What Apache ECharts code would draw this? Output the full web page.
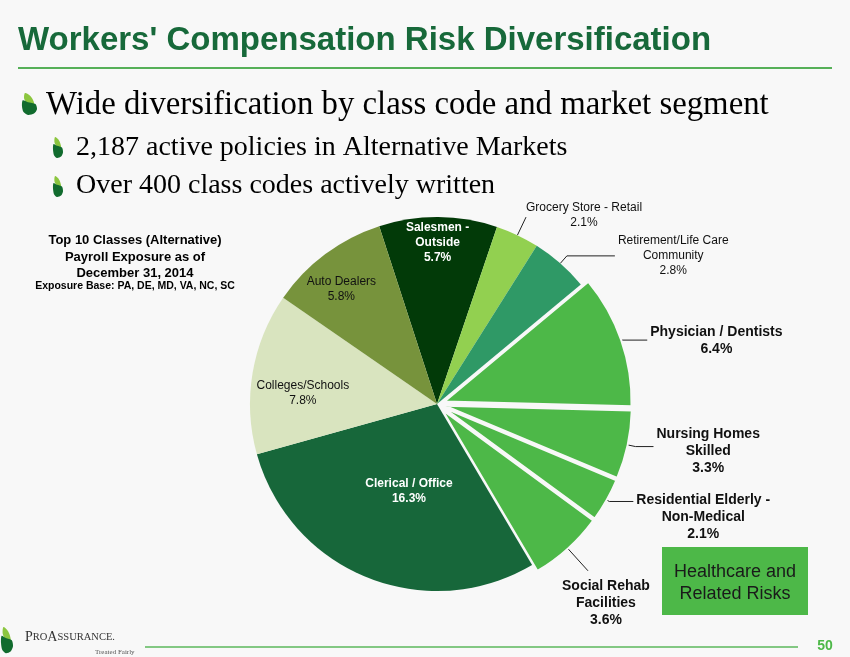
<!DOCTYPE html>
<html>
<head>
<meta charset="utf-8">
<script src="https://cdn.jsdelivr.net/npm/echarts@6/dist/echarts.min.js"></script>
<style>
html,body{margin:0;padding:0;background:#f8f8f8;}
#c{width:850px;height:657px;}
</style>
</head>
<body>
<div id="c"></div>
<script>
// ---- data ----
const categories = ['Salesmen -\nOutside', 'Grocery Store - Retail', 'Retirement/Life Care\nCommunity', 'Physician / Dentists', 'Nursing Homes\nSkilled', 'Residential Elderly -\nNon-Medical', 'Social Rehab\nFacilities', 'Clerical / Office', 'Colleges/Schools', 'Auto Dealers'];
const values = [5.7, 2.1, 2.8, 6.4, 3.3, 2.1, 3.6, 16.3, 7.8, 5.8];
const healthcare = [false, false, false, true, true, true, true, false, false, false];
const titleText = "Workers' Compensation Risk Diversification";
const bullets = ['Wide diversification by class code and market segment', '2,187 active policies in Alternative Markets', 'Over 400 class codes actively written'];
const noteLines = ['Top 10 Classes (Alternative)', 'Payroll Exposure as of', 'December 31, 2014'];
const noteSub = 'Exposure Base: PA, DE, MD, VA, NC, SC';
const boxLines = ['Healthcare and', 'Related Risks'];
const pageNo = '50';

// ---- styles ----
const SANS = '"Liberation Sans", Arial, sans-serif';
const SERIF = '"Liberation Serif", "Times New Roman", serif';
const BG = '#f8f8f8';
const sliceColors = ['#023a08', '#92d050', '#2f9966', '#4db848', '#4db848', '#4db848', '#4db848', '#17673a', '#d9e4bf', '#77933c'];
// label style per slice: [position, fontSize, bold, color, offset(inside), lineLen, lineLen2, distance, padding(outside)]
const labelCfg = [
  ['inside', 12, true, '#ffffff', [0, -65], 0, 0, 0, 0],
  ['outside', 12, false, '#111111', [0, 0], 20, 0, 0, [0, 0, 4, 0]],
  ['outside', 12, false, '#111111', [0, 0], 10, 48, 3, 0],
  ['outside', 14, true, '#111111', [0, 0], 0, 26, 3, [2, 0, 0, 0]],
  ['outside', 14, true, '#111111', [0, 0], 8, 18, 3, [10, 0, 0, 0]],
  ['outside', 14, true, '#111111', [0, 0], 3, 24, 3, [32, 0, 0, 0]],
  ['outside', 14, true, '#111111', [0, 0], 30, 0, -26, [64, 0, 0, 0]],
  ['inside', 12, true, '#ffffff', [8, -2], 0, 0, 0, 0],
  ['inside', 12, false, '#111111', [-39, 5], 0, 0, 0, 0],
  ['inside', 12, false, '#111111', [-38, -37], 0, 0, 0, 0]
];

const pieData = categories.map((name, i) => {
  const c = labelCfg[i];
  const lh = c[1] + 3;
  return {
    name: name,
    value: values[i],
    selected: healthcare[i],
    itemStyle: healthcare[i] ? { color: sliceColors[i], borderColor: BG, borderWidth: 2 } : { color: sliceColors[i] },
    label: {
      position: c[0],
      offset: c[4],
      padding: c[8],
      distanceToLabelLine: c[7],
      rich: { t: { align: 'center', fontSize: c[1], fontWeight: c[2] ? 'bold' : 'normal', color: c[3], fontFamily: SANS, lineHeight: lh } }
    },
    labelLine: { show: c[0] === 'outside', length: c[5], length2: c[6] }
  };
});

function fmt(p) {
  const lines = p.name.split('\n').concat([p.value.toFixed(1) + '%']);
  return lines.map(s => '{t|' + s + '}').join('\n');
}

function leaf(x, y, sx, sy) {
  const pt = (a) => a.map(q => [x + q[0] * sx, y + q[1] * sy]);
  return [
    { type: 'polygon', shape: { points: pt([[2, 0], [5, 1.5], [7, 4], [8, 7.5], [4, 7], [1.5, 4]]), smooth: 0.3 }, style: { fill: '#8cc63f' } },
    { type: 'polygon', shape: { points: pt([[0.5, 5], [4, 6.3], [9, 7.5], [10, 11], [8, 14], [4, 15], [1, 13], [0, 9]]), smooth: 0.25 }, style: { fill: '#116b2e' } }
  ];
}

const graphics = [
  { type: 'text', x: 18, y: 41, style: { text: titleText, font: 'bold 33px ' + SANS, fill: '#17693a', verticalAlign: 'middle' } },
  { type: 'line', shape: { x1: 18, y1: 68, x2: 832, y2: 68 }, style: { stroke: '#56b058', lineWidth: 2 } },
  { type: 'text', x: 46, y: 105, style: { text: bullets[0], font: '32.8px ' + SERIF, fill: '#000', verticalAlign: 'middle' } },
  { type: 'text', x: 76, y: 148, style: { text: bullets[1], font: '28px ' + SERIF, fill: '#000', verticalAlign: 'middle' } },
  { type: 'text', x: 76, y: 186, style: { text: bullets[2], font: '28px ' + SERIF, fill: '#000', verticalAlign: 'middle' } },
  { type: 'text', x: 135, y: 240, style: { text: noteLines[0], font: 'bold 13px ' + SANS, fill: '#000', align: 'center', verticalAlign: 'middle' } },
  { type: 'text', x: 135, y: 257, style: { text: noteLines[1], font: 'bold 13px ' + SANS, fill: '#000', align: 'center', verticalAlign: 'middle' } },
  { type: 'text', x: 135, y: 273, style: { text: noteLines[2], font: 'bold 13px ' + SANS, fill: '#000', align: 'center', verticalAlign: 'middle' } },
  { type: 'text', x: 135, y: 286, style: { text: noteSub, font: 'bold 10.5px ' + SANS, fill: '#000', align: 'center', verticalAlign: 'middle' } },
  { type: 'rect', shape: { x: 662, y: 547, width: 146, height: 68 }, style: { fill: '#4db848' } },
  { type: 'text', x: 735, y: 572, style: { text: boxLines[0], font: '18px ' + SANS, fill: '#1a1a1a', align: 'center', verticalAlign: 'middle' } },
  { type: 'text', x: 735, y: 594, style: { text: boxLines[1], font: '18px ' + SANS, fill: '#1a1a1a', align: 'center', verticalAlign: 'middle' } },
  { type: 'line', shape: { x1: 145, y1: 647, x2: 798, y2: 647 }, style: { stroke: '#5cb85c', lineWidth: 1.5 } },
  { type: 'text', x: 825, y: 646, style: { text: pageNo, font: 'bold 14px ' + SANS, fill: '#4db848', align: 'center', verticalAlign: 'middle' } },
  { type: 'text', x: 25, y: 637, style: { text: '{b|P}{s|RO}{b|A}{s|SSURANCE.}', fill: '#333', verticalAlign: 'middle',
      rich: { b: { fontFamily: SERIF, fontSize: 14, fill: '#333' }, s: { fontFamily: SERIF, fontSize: 10.5, fill: '#333' } } } },
  { type: 'text', x: 95, y: 652, style: { text: 'Treated Fairly', font: '7px ' + SERIF, fill: '#555', verticalAlign: 'middle' } }
].concat(leaf(22, 93, 1.5, 1.47), leaf(53, 137, 1.0, 1.4), leaf(53, 176, 1.0, 1.4), leaf(1, 627, 1.2, 1.75));

const chart = echarts.init(document.getElementById('c'));
chart.setOption({
  backgroundColor: BG,
  animation: false,
  graphic: graphics,
  series: [{
    type: 'pie',
    center: [437, 404],
    radius: [0, 187],
    startAngle: 108,
    clockwise: true,
    avoidLabelOverlap: false,
    selectedMode: 'multiple',
    selectedOffset: 8,
    emphasis: { disabled: true },
    label: { formatter: fmt, color: '#111', fontFamily: SANS },
    labelLine: { lineStyle: { color: '#222', width: 1 }, smooth: false },
    itemStyle: { borderWidth: 0 },
    data: pieData
  }]
});
</script>
</body>
</html>
